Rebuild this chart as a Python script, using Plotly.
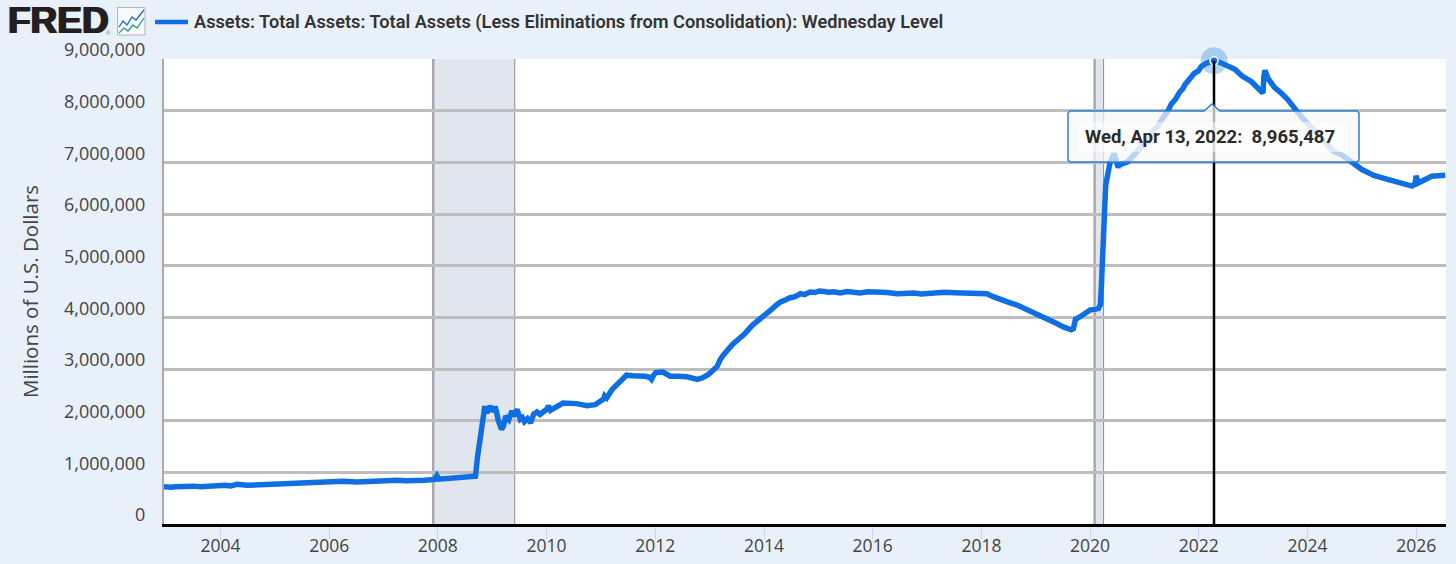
import plotly.graph_objects as go

# Fed balance sheet (millions of dollars)
dates = [
    '2002-12-18', '2003-01-15', '2003-02-05', '2003-03-05', '2003-03-26', '2003-05-14', '2003-07-02', '2003-08-20',
    '2003-10-15', '2003-12-10', '2004-02-04', '2004-03-10', '2004-04-21', '2004-06-30', '2004-09-08', '2004-12-01',
    '2005-03-02', '2005-06-01', '2005-08-10', '2005-11-02', '2006-01-25', '2006-04-05', '2006-07-05', '2006-10-04',
    '2007-01-03', '2007-04-04', '2007-06-06', '2007-08-22', '2007-10-03', '2007-12-12', '2007-12-26', '2008-01-09',
    '2008-03-19', '2008-06-04', '2008-09-03', '2008-09-10', '2008-09-24', '2008-10-08', '2008-10-22', '2008-11-05',
    '2008-11-12', '2008-11-26', '2008-12-17', '2009-01-07', '2009-01-21', '2009-02-11', '2009-03-04', '2009-03-18',
    '2009-04-01', '2009-04-22', '2009-05-13', '2009-05-27', '2009-06-17', '2009-07-08', '2009-07-22', '2009-08-05',
    '2009-08-26', '2009-09-16', '2009-10-07', '2009-10-28', '2009-11-18', '2010-01-06', '2010-01-13', '2010-01-27',
    '2010-04-21', '2010-07-21', '2010-09-29', '2010-11-24', '2011-01-19', '2011-01-26', '2011-02-09', '2011-03-16',
    '2011-04-27', '2011-06-22', '2011-08-03', '2011-09-14', '2011-10-26', '2011-11-23', '2011-12-07', '2011-12-21',
    '2012-01-04', '2012-02-22', '2012-03-14', '2012-04-11', '2012-06-06', '2012-08-01', '2012-10-10', '2012-11-14',
    '2012-12-26', '2013-02-20', '2013-03-13', '2013-04-06', '2013-06-05', '2013-08-21', '2013-10-16', '2014-01-01',
    '2014-02-19', '2014-03-26', '2014-04-23', '2014-05-28', '2014-06-25', '2014-07-30', '2014-09-03', '2014-10-01',
    '2014-11-05', '2014-12-10', '2015-01-07', '2015-02-11', '2015-03-11', '2015-04-15', '2015-05-27', '2015-07-15',
    '2015-08-26', '2015-10-07', '2015-12-02', '2016-02-03', '2016-03-02', '2016-04-06', '2016-06-15', '2016-08-10',
    '2016-10-05', '2016-11-23', '2017-01-04', '2017-03-01', '2017-04-26', '2017-07-05', '2017-10-04', '2017-12-06',
    '2018-02-07', '2018-03-21', '2018-05-09', '2018-07-04', '2018-09-05', '2018-11-07', '2019-02-06', '2019-03-27',
    '2019-05-22', '2019-07-10', '2019-08-28', '2019-09-11', '2019-09-25', '2019-11-06', '2020-01-01', '2020-02-26',
    '2020-03-11', '2020-03-18', '2020-03-25', '2020-04-15', '2020-05-13', '2020-06-10', '2020-07-08', '2020-07-15',
    '2020-09-09', '2020-10-14', '2020-12-09', '2021-01-06', '2021-02-03', '2021-03-03', '2021-03-31', '2021-04-21',
    '2021-05-19', '2021-06-09', '2021-06-30', '2021-07-28', '2021-08-25', '2021-09-15', '2021-09-29', '2021-10-27',
    '2021-12-01', '2021-12-29', '2022-01-19', '2022-02-23', '2022-03-16', '2022-04-13', '2022-05-25', '2022-07-13',
    '2022-08-31', '2022-10-19', '2022-12-21', '2023-02-01', '2023-03-08', '2023-03-15', '2023-03-22', '2023-04-12',
    '2023-05-24', '2023-07-05', '2023-08-23', '2023-10-11', '2023-12-06', '2024-02-07', '2024-04-17', '2024-06-26',
    '2024-08-21', '2024-10-23', '2025-01-01', '2025-03-26', '2025-06-04', '2025-08-13', '2025-10-15', '2025-12-03',
    '2025-12-24', '2025-12-31', '2026-01-14', '2026-03-04', '2026-04-15', '2026-07-15',
]
total_assets = [
    719542, 705000, 712000, 722000, 728000, 716000, 733000, 722000,
    738000, 730000, 748000, 738000, 768000, 748000, 758000, 772000,
    786000, 800000, 790000, 806000, 815000, 826000, 813000, 832000,
    838000, 848000, 836000, 858000, 846000, 862000, 935000, 868000,
    880000, 893000, 905000, 926000, 1300000, 1550000, 1800000, 2060000,
    2280000, 2150000, 2280000, 2180000, 2270000, 2000000, 1830000, 1900000,
    2090000, 2020000, 2190000, 2090000, 2220000, 2030000, 2060000, 1980000,
    2040000, 1960000, 2130000, 2170000, 2120000, 2230000, 2290000, 2200000,
    2340000, 2330000, 2290000, 2310000, 2420000, 2480000, 2440000, 2600000,
    2730000, 2880000, 2870000, 2870000, 2860000, 2840000, 2800000, 2880000,
    2930000, 2940000, 2900000, 2860000, 2860000, 2850000, 2800000, 2830000,
    2900000, 3050000, 3180000, 3280000, 3480000, 3670000, 3850000, 4020000,
    4150000, 4240000, 4300000, 4340000, 4380000, 4400000, 4460000, 4440000,
    4490000, 4480000, 4510000, 4500000, 4485000, 4495000, 4470000, 4500000,
    4480000, 4470000, 4495000, 4500000, 4485000, 4480000, 4455000, 4465000,
    4470000, 4450000, 4460000, 4470000, 4485000, 4475000, 4470000, 4450000,
    4455000, 4400000, 4340000, 4290000, 4230000, 4150000, 4020000, 3960000,
    3880000, 3810000, 3760000, 3780000, 3960000, 4030000, 4140000, 4170000,
    4250000, 4660000, 5300000, 6550000, 6980000, 7170000, 6900000, 6950000,
    7010000, 7120000, 7280000, 7360000, 7470000, 7620000, 7690000, 7800000,
    7900000, 8000000, 8130000, 8220000, 8360000, 8420000, 8500000, 8590000,
    8720000, 8770000, 8860000, 8920000, 8940000, 8965487, 8930000, 8870000,
    8800000, 8670000, 8560000, 8440000, 8340000, 8680000, 8780000, 8620000,
    8450000, 8350000, 8210000, 8030000, 7830000, 7650000, 7430000, 7210000,
    7140000, 7020000, 6860000, 6740000, 6680000, 6640000, 6580000, 6540000,
    6580000, 6740000, 6600000, 6680000, 6730000, 6750000,
]
series_name = 'Assets: Total Assets: Total Assets (Less Eliminations from Consolidation): Wednesday Level'
year_ticks = list(range(2004, 2027, 2))
y_ticks = list(range(0, 9000001, 1000000))
recessions = [('2007-12-01', '2009-06-01'), ('2020-02-01', '2020-04-01')]
peak_date = '2022-04-13'
peak_value = 8965487

W, H = 1456, 564
L, R, T, B = 164, 1446, 59, 524
LINE_BLUE = '#0F6FE2'


def px_x(p):
    return (p - L) / (R - L)


def px_y(p):
    return (B - p) / (B - T)


def panel_path(points):
    return 'M' + ' L'.join(f'{px_x(x):.5f},{px_y(y):.5f}' for x, y in points)


def add_label(x, y, text, font, anchor='left'):
    fig.add_annotation(x=px_x(x), y=px_y(y), xref='paper', yref='paper', showarrow=False,
                       xanchor=anchor, yanchor='middle', text=text, font=font)


fig = go.Figure()
fig.add_trace(go.Scatter(x=dates, y=total_assets, mode='lines', name=series_name,
                         line=dict(color=LINE_BLUE, width=5.5)))
# hovered point: soft halo plus the small dot
fig.add_trace(go.Scatter(x=[peak_date], y=[peak_value], mode='markers', cliponaxis=False,
                         marker=dict(size=27, color='rgba(20,120,225,0.3)')))
fig.add_trace(go.Scatter(x=[peak_date], y=[peak_value], mode='markers', cliponaxis=False,
                         marker=dict(size=8, color=LINE_BLUE, line=dict(color='white', width=1.5))))

for start, end in recessions:
    fig.add_shape(type='rect', x0=start, x1=end, y0=0, y1=1, yref='y domain', layer='below',
                  fillcolor='#E1E5EE', line_width=0)
    fig.add_shape(type='line', x0=start, x1=start, y0=0, y1=1, yref='y domain', layer='below',
                  line=dict(color='#A9A9A9', width=2.5))
    fig.add_shape(type='line', x0=end, x1=end, y0=0, y1=1, yref='y domain', layer='below',
                  line=dict(color='#8F8F8F', width=1))

# crosshair
fig.add_shape(type='line', x0=peak_date, x1=peak_date, y0=0, y1=peak_value, layer='above',
              line=dict(color='black', width=2.5))

# tooltip box with the notch on top
box = [(1070, 111), (1204, 111), (1212, 104), (1220, 111), (1357, 111), (1359, 113), (1359, 160), (1357, 162),
       (1070, 162), (1068, 160), (1068, 113)]
fig.add_shape(type='path', path=panel_path(box) + ' Z', xref='paper', yref='paper', layer='above',
              fillcolor='rgba(247,247,247,0.72)', line=dict(color='#2F7FD4', width=1.5))
fig.add_shape(type='rect', x0=px_x(1078), x1=px_x(1348), y0=px_y(152), y1=px_y(122), xref='paper', yref='paper',
              layer='above', fillcolor='rgba(255,255,255,0.5)', line_width=0)

# little chart icon next to the logo
fig.add_shape(type='rect', x0=px_x(117.5), x1=px_x(145), y0=px_y(35), y1=px_y(7.5), xref='paper', yref='paper',
              fillcolor='#F7F9FC', line=dict(color='#B5B5B5', width=1))
fig.add_shape(type='path', path=panel_path([(119, 27), (123, 21), (127, 25), (132, 17), (136, 20), (144, 10)]),
              xref='paper', yref='paper', line=dict(color='#1F66C4', width=1.3))
fig.add_shape(type='path', path=panel_path([(119, 33), (124, 28), (128, 31), (133, 25), (137, 28), (144, 18)]),
              xref='paper', yref='paper', line=dict(color='#2E9A86', width=1.3))

# legend key and label
fig.add_shape(type='line', x0=px_x(155), x1=px_x(188), y0=px_y(22), y1=px_y(22), xref='paper', yref='paper',
              line=dict(color=LINE_BLUE, width=4.5))
add_label(192, 21.5, series_name, dict(family='Roboto', size=18.2, color='#333333', weight=600))

add_label(1210, 137, '<b>Wed, Apr 13, 2022:  8,965,487</b>', dict(family='Roboto', size=18.5, color='#2B2B2B'),
          anchor='center')
add_label(6, 21, '<b>FRED</b>', dict(family='Liberation Sans', size=37, color='#231F20',
                                     shadow='1px 0 #231F20, -1px 0 #231F20'))
add_label(104, 33, '®', dict(family='Liberation Sans', size=6, color='#777777'))

fig.update_layout(
    template='none',
    width=W, height=H,
    margin=dict(l=L, r=W - R, t=T, b=H - B),
    paper_bgcolor='#E8F0FA',
    plot_bgcolor='white',
    font=dict(family='Open Sans', color='#444444'),
    hovermode=False,
    showlegend=False,
    xaxis=dict(
        automargin=False,
        range=['2002-12-18', '2026-07-20'],
        tickmode='array',
        tickvals=[f'{y}-01-01' for y in year_ticks],
        ticktext=[str(y) for y in year_ticks],
        tickfont=dict(size=17.5),
        tickangle=0,
        ticklabelstandoff=-8,
        ticks='outside', ticklen=12, tickcolor='#CCD6EB', tickwidth=1,
        showgrid=False, zeroline=False,
        showline=True, linecolor='black', linewidth=3,
    ),
    yaxis=dict(
        automargin=False,
        range=[0, 9000000],
        tickmode='array',
        tickvals=y_ticks,
        ticktext=[f'{v:,}' for v in y_ticks],
        tickfont=dict(size=18),
        ticklabelshift=-9,
        ticklabelstandoff=13,
        ticks='',
        gridcolor='#BDBDBD', gridwidth=2.5,
        zeroline=False,
        showline=True, linecolor='#ABABAB', linewidth=2,
        title=dict(text='Millions of U.S. Dollars', font=dict(size=20.5), standoff=20),
    ),
)

fig.write_html('out.html', config=dict(displayModeBar=False), post_script="document.body.style.margin='0';")
